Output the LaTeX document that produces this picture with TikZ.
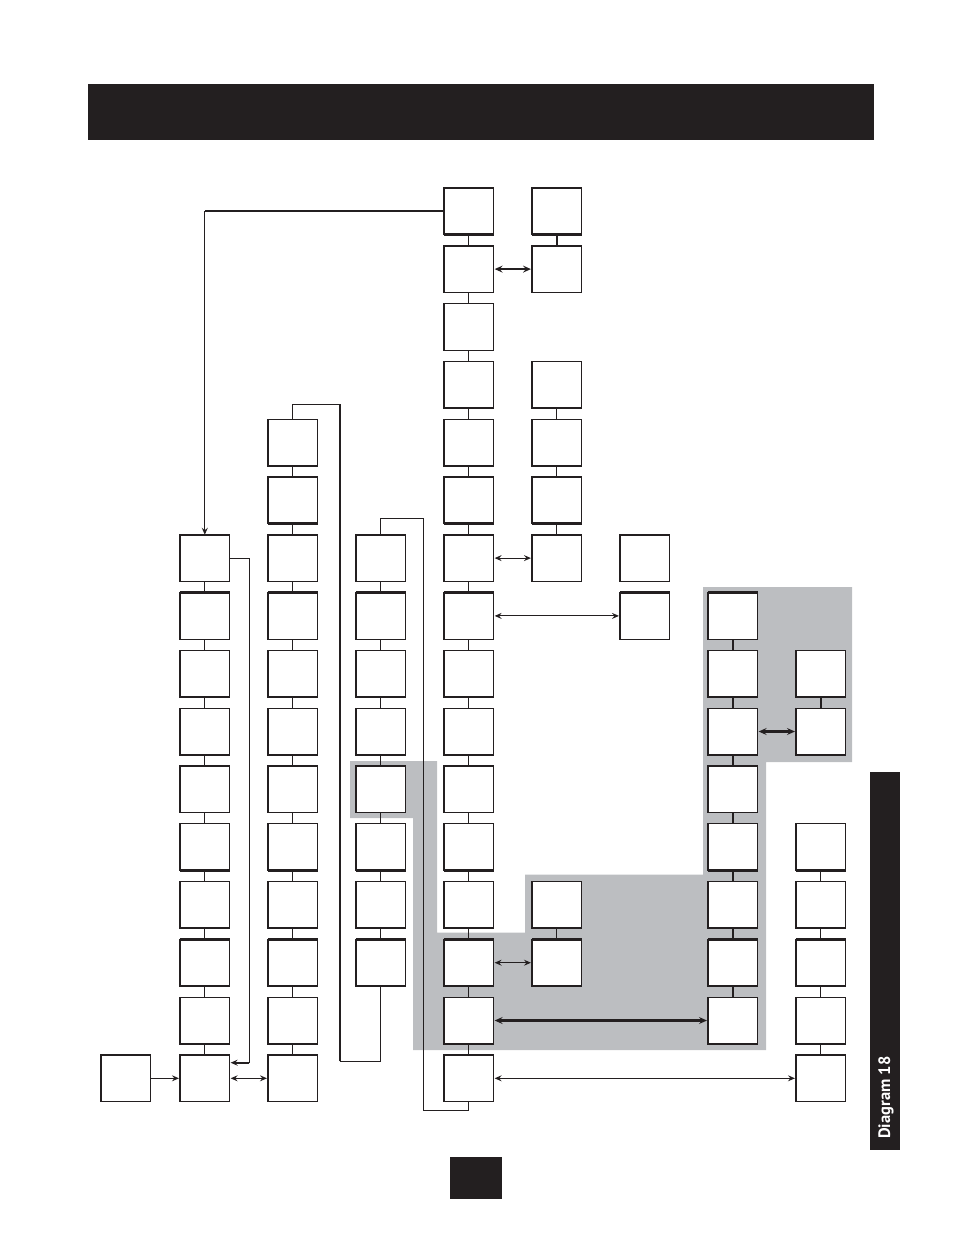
\documentclass[tikz,border=0pt]{standalone}
\usepackage{fontspec}
\setsansfont{PT Sans}
\usetikzlibrary{arrows.meta}
\definecolor{ink}{RGB}{35,31,32}
\definecolor{greyfill}{RGB}{188,190,193}
\tikzset{
  box/.style={draw=ink, fill=white, line width=1.3pt, minimum width=49.7pt, minimum height=46.7pt, inner sep=0pt, outer sep=0pt},
  conn/.style={draw=ink, line width=1pt},
  heavy/.style={draw=ink, line width=2.2pt},
  midline/.style={draw=ink, line width=1.7pt},
  edgeline/.style={draw=ink, line width=2.4pt},
  onetip/.style={-{Stealth[length=7pt,width=6pt,inset=2.5pt]}},
  twotip/.style={{Stealth[length=7pt,width=6pt,inset=2.5pt]}-{Stealth[length=7pt,width=6pt,inset=2.5pt]}, shorten <=1pt, shorten >=1pt},
  bigtip/.style={{Stealth[length=8pt,width=7pt,inset=3pt]}-{Stealth[length=8pt,width=7pt,inset=3pt]}, shorten <=1pt, shorten >=1pt}
}
\begin{document}
\begin{tikzpicture}[x=1pt,y=-1pt]
\useasboundingbox (0,0) rectangle (954,1235);
% title bar, side tab, page box
\fill[ink] (88,84) rectangle (874,140);
\fill[ink] (870,772) rectangle (900,1150);
\fill[ink] (450,1157) rectangle (501.7,1198.7);
\node[rotate=90, anchor=base west, inner sep=0pt, text=white, font=\sffamily\bfseries\fontsize{16.5}{17}\selectfont] (tabtext) at (890,1139) {Diagram 18};
% grey region
\fill[greyfill] (350,761) -- (437,761) -- (437,932.7) -- (525,932.7) -- (525,874.7) -- (703,874.7) -- (703,587) -- (852,587) -- (852,762) -- (766,762) -- (766,1050) -- (413,1050) -- (413,818) -- (350,818) -- cycle;
% boxes
\foreach \c/\x/\rlist in {0/125.8/{15}, 1/204.8/{6,...,15}, 2/292.8/{4,...,15}, 3/380.8/{6,...,13}, 4/468.8/{0,...,15}, 5/556.8/{0,1,3,4,5,6,12,13}, 6/644.8/{6,7}, 7/732.8/{7,...,14}, 8/820.8/{8,9,11,12,13,14,15}}{
  \foreach \r in \rlist {
    \node[box] (n\c-\r) at (\x,{211.3+57.8*\r}) {};
    \ifcase\r
      \draw[edgeline] (n\c-\r.south west) -- (n\c-\r.south east);
    \or
      \draw[edgeline] (n\c-\r.north west) -- (n\c-\r.north east);
    \or\or\or\or
      \draw[edgeline] (n\c-\r.south west) -- (n\c-\r.south east);
    \or
      \draw[edgeline] (n\c-\r.north west) -- (n\c-\r.north east);
    \or
      \draw[edgeline] (n\c-\r.north west) -- (n\c-\r.north east);
    \or\or\or\or
      \draw[edgeline] (n\c-\r.south west) -- (n\c-\r.south east);
    \or
      \draw[edgeline] (n\c-\r.south west) -- (n\c-\r.south east);
    \or
      \draw[edgeline] (n\c-\r.north west) -- (n\c-\r.north east);
    \or\or
    \fi
  }
}
% vertical links within columns
\foreach \c/\rlist in {1/{6,...,14}, 2/{4,...,14}, 3/{6,...,12}, 4/{0,...,14}, 5/{3,4,5,12}, 8/{11,...,14}}{
  \foreach \r in \rlist {
    \pgfmathtruncatemacro\s{\r+1}
    \draw[conn] (n\c-\r.south) -- (n\c-\s.north);
  }
}
\foreach \c/\rlist in {5/{0}, 7/{7,...,13}, 8/{8}}{
  \foreach \r in \rlist {
    \pgfmathtruncatemacro\s{\r+1}
    \draw[heavy] (n\c-\r.south) -- (n\c-\s.north);
  }
}
% long connectors
\coordinate (k1) at (n1-6.north |- n4-0.west);
\draw[midline] (n4-0.west) -- (k1);
\draw[conn, onetip] (k1) -- (n1-6.north);

\coordinate (j1) at (249.3,1062.7);
\draw[conn] (n1-6.east) -| (j1);
\draw[heavy, -{Stealth[length=7pt,width=6pt,inset=2.5pt]}, shorten >=1pt] (j1) -- (j1 -| n1-15.east);

\coordinate (j2) at (339.7,404.3);
\coordinate (j3) at (339.7,1061);
\draw[conn] (n2-4.north) |- (j2);
\draw[heavy] (j2) -- (j3);
\draw[conn] (j3) -| (n3-13.south);

\coordinate (j4) at (423.3,518.3);
\coordinate (j5) at (423.3,1110);
\draw[conn] (n3-6.north) |- (j4) -- (j5) -| (n4-15.south);

% horizontal arrows
\draw[heavy, bigtip] (n4-1.east) -- (n5-1.west);
\draw[conn, twotip] (n4-6.east) -- (n5-6.west);
\draw[conn, twotip] (n4-7.east) -- (n6-7.west);
\draw[heavy, bigtip] (n7-9.east) -- (n8-9.west);
\draw[conn, twotip] (n4-13.east) -- (n5-13.west);
\draw[heavy, bigtip] (n4-14.east) -- (n7-14.west);
\draw[conn, twotip] (n4-15.east) -- (n8-15.west);
\draw[conn, onetip, shorten >=1pt] (n0-15.east) -- (n1-15.west);
\draw[conn, twotip] (n1-15.east) -- (n2-15.west);
\end{tikzpicture}
\end{document}
